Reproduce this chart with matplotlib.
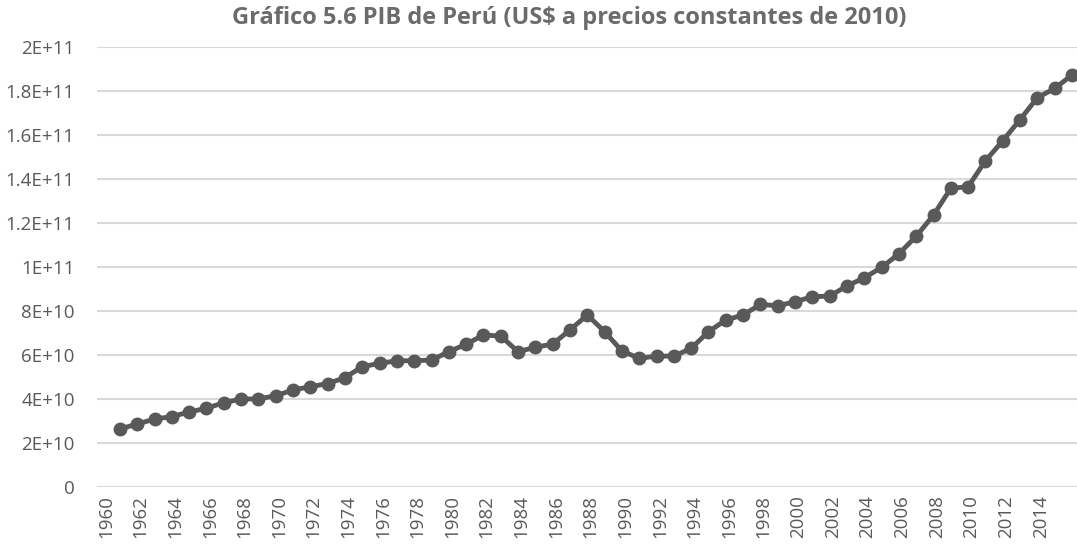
import matplotlib
matplotlib.use("Agg")
import matplotlib.pyplot as plt
import matplotlib.transforms as mtransforms

years = list(range(1960, 2016))
gdp_e10 = [2.64, 2.86, 3.09, 3.20, 3.41, 3.58, 3.83, 4.00, 4.00, 4.15,
           4.41, 4.56, 4.70, 4.97, 5.47, 5.62, 5.74, 5.74, 5.77, 6.15,
           6.49, 6.91, 6.86, 6.15, 6.35, 6.50, 7.14, 7.82, 7.06, 6.18,
           5.85, 5.95, 5.95, 6.30, 7.06, 7.59, 7.82, 8.30, 8.24, 8.42,
           8.65, 8.68, 9.14, 9.51, 9.98, 10.60, 11.40, 12.36, 13.58, 13.65,
           14.83, 15.74, 16.70, 17.70, 18.12, 18.73]
gdp = [v * 1e10 for v in gdp_e10]

ytick_vals = [0, 2e10, 4e10, 6e10, 8e10, 1e11, 1.2e11, 1.4e11, 1.6e11, 1.8e11, 2e11]
ytick_labels = ["0", "2E+10", "4E+10", "6E+10", "8E+10", "1E+11", "1.2E+11",
                "1.4E+11", "1.6E+11", "1.8E+11", "2E+11"]
xtick_years = list(range(1960, 2015, 2))
title = "Gráfico 5.6 PIB de Perú (US$ a precios constantes de 2010)"

plt.rcParams['font.family'] = ['Open Sans', 'DejaVu Sans']
fig = plt.figure(figsize=(10.77, 5.54), dpi=100)
ax = fig.add_axes([0.09, 0.121, 0.91, 0.794])

ax.plot(years, gdp, color="#595959", linewidth=3.5, marker="o", markersize=9,
        markerfacecolor="#595959", markeredgecolor="#595959", zorder=3, clip_on=False)

ax.set_ylim(0, 2e11)
ax.set_xlim(1958.67, 2015.29)
ax.set_yticks(ytick_vals)
ax.set_yticklabels(ytick_labels)
ax.set_xticks(xtick_years)
ax.set_xticklabels([str(y) for y in xtick_years], rotation=90)
ax.grid(axis="y", color="#d9d9d9", linewidth=1.5)
ax.set_axisbelow(True)
for s in ax.spines.values():
    s.set_visible(False)
ax.tick_params(axis="both", length=0, colors="#595959", labelsize=13.5)
ax.tick_params(axis="y", pad=16)
ax.tick_params(axis="x", pad=6)

offset = mtransforms.ScaledTranslation(-14 / 100, 0, fig.dpi_scale_trans)
for lbl in ax.get_xticklabels():
    lbl.set_transform(lbl.get_transform() + offset)

fig.text(0.529, 0.967, title, ha="center", va="center", fontsize=17,
         fontweight="bold", color="#6b6b6b")

fig.savefig("out.png", dpi=100, facecolor="white")
